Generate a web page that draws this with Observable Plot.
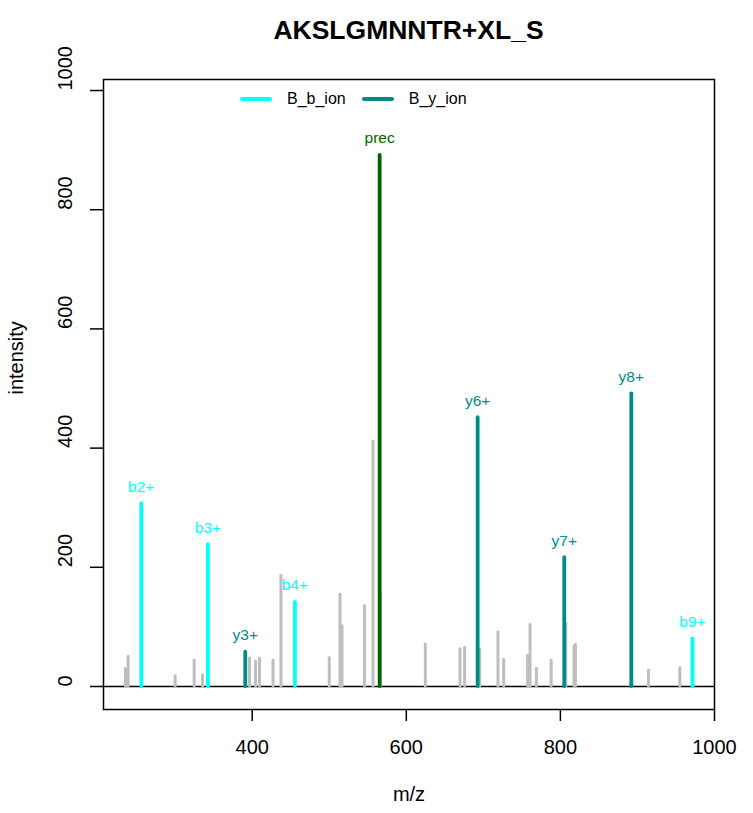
<!DOCTYPE html>
<html>
<head>
<meta charset="utf-8">
<script src="https://cdn.jsdelivr.net/npm/d3@7"></script>
<script src="https://cdn.jsdelivr.net/npm/@observablehq/plot@0.6"></script>
<style>
  html, body { margin: 0; padding: 0; background: #fff; }
  body { width: 753px; height: 813px; position: relative; overflow: hidden; font-family: "Liberation Sans", Arial, Helvetica, sans-serif; }
  #title { position: absolute; top: 0; left: 103px; height: 60px; line-height: 60px; width: 611px; text-align: center; font-weight: bold; font-size: 26.5px; color: #000; }
  #legend { position: absolute; top: 89px; left: 240px; height: 20px; display: flex; align-items: center; font-size: 16px; color: #000; }
  .sw { display: inline-block; width: 32px; height: 4px; border-radius: 2px; }
  .lab { margin-left: 15px; margin-right: 16px; }
  #chart svg { display: block; overflow: visible; }
</style>
</head>
<body>
<div id="chart"></div>
<div id="title">AKSLGMNNTR+XL_S</div>
<div id="legend"></div>
<script>
// --- data ---
const greyMz  = [235.5, 239, 300, 324.7, 335.5, 396.5, 404.3, 409.5, 427, 437.3, 500, 513.9, 516.5, 545.8, 556.7, 566, 624.7, 669.7, 675.7, 695.2, 719, 726.4, 757.5, 760.6, 768.8, 788, 807, 817.8, 819.5, 892.5, 914.3, 955];
const greyInt = [29.5, 50, 17, 43.6, 19, 47.5, 42, 47, 43.6, 186, 48, 154, 101, 135, 411, 155, 70.5, 62.6, 65, 62, 91, 44.7, 51.5, 103, 29.6, 43.6, 105, 67.6, 70, 320, 26.8, 30.7];

const ionLabels = ["b2+", "b3+", "y3+", "b4+", "prec", "y6+", "y7+", "y8+", "b9+"];
const ionMz     = [256, 342.5, 391, 455.4, 565.4, 692.6, 805, 892, 971.4];
const ionInt    = [307, 238, 57.6, 141, 891, 451, 216, 491, 80];
const ionType   = ["B_b_ion", "B_b_ion", "B_y_ion", "B_b_ion", "prec", "B_y_ion", "B_y_ion", "B_y_ion", "B_b_ion"];

const typeNames  = ["B_b_ion", "B_y_ion", "prec"];
const typeColors = ["#00FFFF", "#008B8B", "#006400"];
const legendNames = ["B_b_ion", "B_y_ion"];

const xTicks = [400, 600, 800, 1000];
const yTicks = [0, 200, 400, 600, 800, 1000];
const title = "AKSLGMNNTR+XL_S";
const xLabel = "m/z";
const yLabel = "intensity";

// --- build tables ---
const grey = greyMz.map((m, i) => ({mz: m, int: greyInt[i]}));
const ions = ionMz.map((m, i) => ({mz: m, int: ionInt[i], label: ionLabels[i], type: ionType[i]}));
const colorOf = t => typeColors[typeNames.indexOf(t)];

const font = "Liberation Sans, Arial, Helvetica, sans-serif";

const chart = Plot.plot({
  width: 753,
  height: 813,
  marginLeft: 103,
  marginRight: 39,
  marginTop: 79,
  marginBottom: 104,
  style: {fontFamily: font, background: "#fff", color: "#000"},
  x: {domain: [207, 1000]},
  y: {domain: [-38.6, 1018.5]},
  marks: [
    Plot.ruleY([0], {stroke: "#000", strokeWidth: 1.5}),
    Plot.ruleX(grey, {x: "mz", y1: 0, y2: "int", stroke: "#BEBEBE", strokeWidth: 3, strokeLinecap: "round"}),
    Plot.ruleX(ions, {x: "mz", y1: 0, y2: "int", stroke: d => colorOf(d.type), strokeWidth: 3.8, strokeLinecap: "round"}),
    Plot.text(ions, {x: "mz", y: "int", text: "label", fill: d => colorOf(d.type), dy: -17, fontSize: 15.5}),
    Plot.frame({stroke: "#000", strokeWidth: 1.5}),
    Plot.axisX(xTicks, {anchor: "bottom", tickSize: 12, tickPadding: 18, fontSize: 20, label: null, strokeWidth: 1.5, tickFormat: d => String(d)}),
    Plot.axisY(yTicks, {anchor: "left", tickSize: 13, tickFormat: () => "", label: null, strokeWidth: 1.5}),
    Plot.text(yTicks, {y: d => d, text: d => String(d), frameAnchor: "left", dx: -38, rotate: -90, fontSize: 20}),
    Plot.text([xLabel], {frameAnchor: "bottom", dy: 91, fontSize: 20}),
    Plot.text([yLabel], {frameAnchor: "left", dx: -87, rotate: -90, fontSize: 20})
  ]
});
document.getElementById("chart").appendChild(chart);

document.getElementById("title").textContent = title;
const legend = document.getElementById("legend");
legendNames.forEach(n => {
  const sw = document.createElement("span");
  sw.className = "sw";
  sw.style.background = colorOf(n);
  const lab = document.createElement("span");
  lab.className = "lab";
  lab.textContent = n;
  legend.appendChild(sw);
  legend.appendChild(lab);
});
</script>
</body>
</html>
